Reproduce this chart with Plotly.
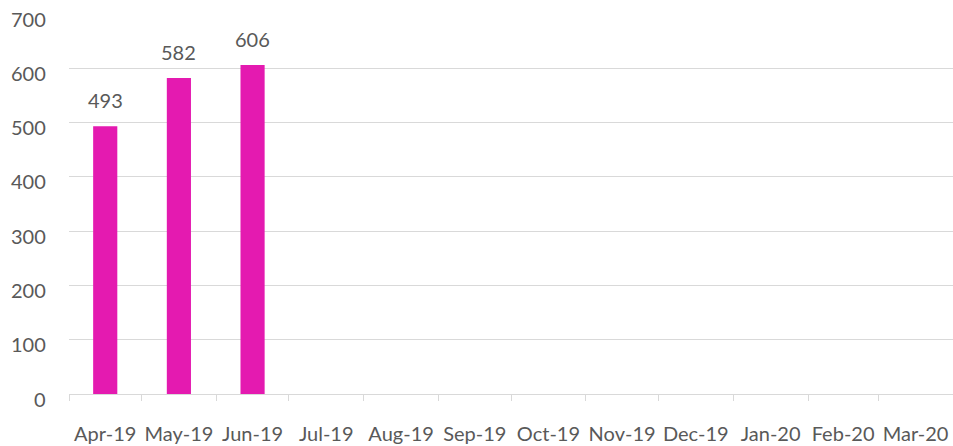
import plotly.graph_objects as go
import pandas as pd

months = ["Apr-19", "May-19", "Jun-19", "Jul-19", "Aug-19", "Sep-19",
          "Oct-19", "Nov-19", "Dec-19", "Jan-20", "Feb-20", "Mar-20"]
values = [493, 582, 606, None, None, None, None, None, None, None, None, None]
y_ticks = [0, 100, 200, 300, 400, 500, 600, 700]

dates = [pd.to_datetime(m, format="%b-%y") for m in months]
start = dates[0]
end = dates[-1] + pd.DateOffset(months=1)

BAR_COLOR = "#E41AB0"
TEXT_COLOR = "#595959"
GRID = "#D9D9D9"
FONT = "Lato, Carlito, Calibri, sans-serif"
FS = 20

fig = go.Figure()
fig.add_trace(go.Bar(
    x=dates, y=values,
    xperiod="M1", xperiodalignment="middle",
    width=10 * 86400000,
    marker=dict(color=BAR_COLOR, line=dict(width=0)),
    hoverinfo="skip",
))

# data labels above bars
for d, v in zip(dates, values):
    if v is None:
        continue
    mid = d + (d + pd.DateOffset(months=1) - d) / 2
    fig.add_annotation(x=mid, y=v, text=str(v), showarrow=False,
                       yanchor="bottom", yshift=12,
                       font=dict(size=FS, color=TEXT_COLOR, family=FONT))

# y-axis labels (slightly below their gridlines, as in the reference)
for t in y_ticks:
    fig.add_annotation(x=0, xref="paper", y=t, yref="y", text=str(t),
                       showarrow=False, xanchor="right", yanchor="middle",
                       xshift=-21, yshift=-4.5,
                       font=dict(size=FS, color=TEXT_COLOR, family=FONT))

fig.update_layout(
    width=953, height=446,
    margin=dict(l=69, r=0, t=14, b=52, autoexpand=False),
    paper_bgcolor="white", plot_bgcolor="white",
    showlegend=False,
    font=dict(family=FONT, size=FS, color=TEXT_COLOR),
    xaxis=dict(
        type="date",
        range=[start, end],
        tick0=start, dtick="M1",
        ticklabelmode="period",
        tickformat="%b-%y",
        ticks="outside", ticklen=6, tickcolor=GRID, tickwidth=1.3,
        showgrid=False,
        showline=True, linecolor=GRID, linewidth=1.3,
        ticklabelstandoff=16,
        automargin=False,
        tickfont=dict(size=FS, color=TEXT_COLOR, family=FONT),
        fixedrange=True,
    ),
    yaxis=dict(
        range=[0, 700],
        tickvals=y_ticks,
        showticklabels=False,
        showgrid=True, gridcolor=GRID, gridwidth=1.3,
        zeroline=False, showline=False,
        ticks="",
        automargin=False,
        fixedrange=True,
    ),
)

fig.write_html(
    "out.html",
    config={"displayModeBar": False},
    post_script="document.body.style.margin='0';document.body.style.overflow='hidden';",
)
